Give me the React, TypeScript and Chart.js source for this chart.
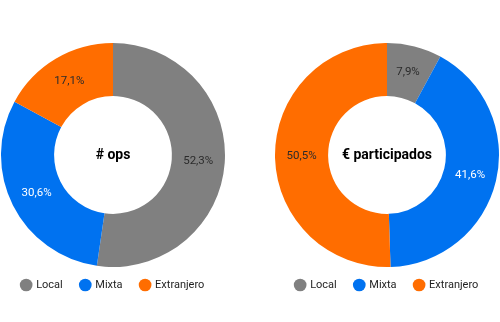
import React, { useEffect, useRef } from "react";
import { Chart, registerables } from "chart.js";

Chart.register(...registerables);

const categories = ["Local", "Mixta", "Extranjero"];
const opsShares = [52.3, 30.6, 17.1];
const euroShares = [7.9, 41.6, 50.5];
const sliceColors = ["#808080", "#0072F0", "#FF6D00"];
const sliceLabelColors = ["#2B2B2B", "#FFFFFF", "#2B2B2B"];
const opsTitle = "# ops";
const euroTitle = "€ participados";

const formatPct = (v: number) => v.toFixed(1).replace(".", ",") + "%";

const doughnutText = {
  id: "doughnutText",
  afterDatasetsDraw(chart: any, _args: any, opts: any) {
    const ctx = chart.ctx;
    const meta = chart.getDatasetMeta(0);
    const ds = chart.data.datasets[0];
    ctx.save();
    ctx.textAlign = "center";
    ctx.textBaseline = "middle";
    ctx.font = "11.5px Roboto";
    meta.data.forEach((arc: any, i: number) => {
      const p = arc.tooltipPosition();
      ctx.fillStyle = sliceLabelColors[i];
      ctx.fillText(formatPct(ds.data[i]), p.x, p.y);
    });
    const c = meta.data[0];
    ctx.font = "bold 14px Roboto";
    ctx.fillStyle = "#000000";
    ctx.fillText(opts.title, c.x, c.y);
    ctx.restore();
  },
};

function DoughnutPanel({ left, values, title }: { left: number; values: number[]; title: string }) {
  const ref = useRef<HTMLCanvasElement>(null);
  useEffect(() => {
    if (!ref.current) return;
    const chart = new Chart(ref.current, {
      type: "doughnut",
      data: {
        labels: categories,
        datasets: [
          {
            data: values,
            backgroundColor: sliceColors,
            borderWidth: 0,
            radius: 112,
            cutout: 56,
            clip: false,
          } as any,
        ],
      },
      options: {
        responsive: false,
        animation: false,
        layout: { padding: { top: 48.5, bottom: 21.5, left: 0, right: 0 } },
        plugins: {
          tooltip: { enabled: false },
          legend: {
            position: "bottom",
            labels: {
              usePointStyle: true,
              pointStyle: "circle",
              boxWidth: 9,
              boxHeight: 9,
              padding: 18,
              color: "#1F1F1F",
              font: { family: "Roboto", size: 11 },
            },
          },
          doughnutText: { title },
        } as any,
      },
      plugins: [doughnutText],
    });
    return () => chart.destroy();
  }, []);
  return (
    <div style={{ position: "absolute", left, top: 0, width: 226, height: 322 }}>
      <canvas ref={ref} width={226} height={322} style={{ display: "block" }} />
    </div>
  );
}

export default function App() {
  return (
    <div style={{ position: "absolute", left: 0, top: 0, width: 500, height: 322, background: "#fff" }}>
      <DoughnutPanel left={0} values={opsShares} title={opsTitle} />
      <DoughnutPanel left={274} values={euroShares} title={euroTitle} />
    </div>
  );
}
